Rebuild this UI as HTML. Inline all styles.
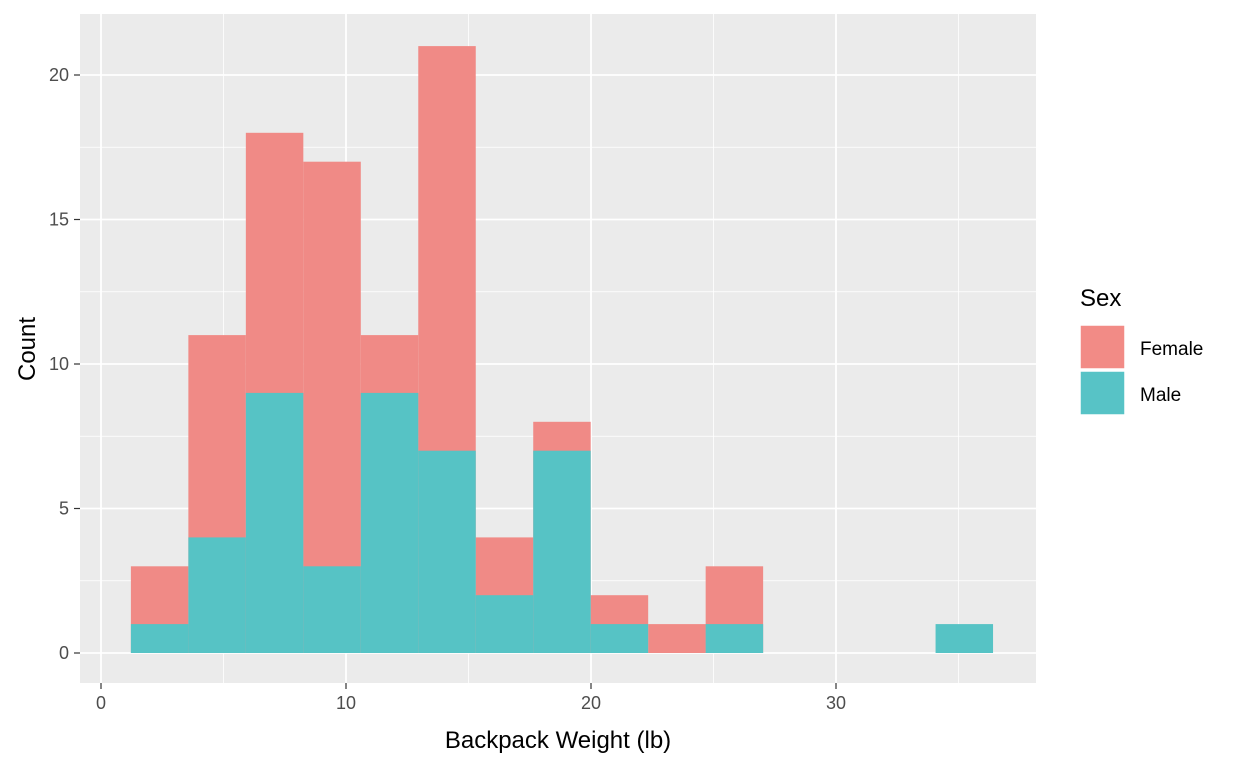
<!DOCTYPE html>
<html><head><meta charset="utf-8"><style>
html,body{margin:0;padding:0;background:#fff;}
svg{display:block;font-family:"Liberation Sans",Arial,sans-serif;}
</style></head><body>
<svg id="chart" width="1248" height="768">
<rect x="80" y="14" width="956" height="669" fill="#EBEBEB"/>
<g id="grid"></g><g id="bars"></g><g id="axes"></g>
<text x="558" y="748" font-size="24" text-anchor="middle" fill="#000">Backpack Weight (lb)</text>
<text transform="translate(35,349) rotate(-90)" font-size="24" text-anchor="middle" fill="#000">Count</text>
<g>
<text x="1080" y="306" font-size="24" fill="#000">Sex</text>
<g>
<rect x="1080" y="325" width="45" height="44" fill="#F28B86" stroke="#fff" stroke-width="1.5"/>
<text x="1140" y="355" font-size="19" fill="#000">Female</text></g>
<g>
<rect x="1080" y="371" width="45" height="44" fill="#57C3C6" stroke="#fff" stroke-width="1.5"/>
<text x="1140" y="401" font-size="19" fill="#000">Male</text></g>
</g>
</svg>
<script>
const binStart = 1.22;
const binWidth = 2.346;
const femaleCounts = [3,11,18,17,11,21,4,8,2,1,3,0,0,0,0];
const maleCounts = [1,4,9,3,9,7,2,7,1,0,1,0,0,0,1];
const xTicks = [0,10,20,30];
const yTicks = [0,5,10,15,20];
const NS="http://www.w3.org/2000/svg";
const X=v=>101+v*24.5;
const Y=v=>653-v*28.9;
function mk(tag,attrs,parent){const e=document.createElementNS(NS,tag);for(const k in attrs)e.setAttribute(k,attrs[k]);document.getElementById(parent).appendChild(e);return e;}
for(const t of xTicks){
 const m=mk('line',{x1:X(t+5),x2:X(t+5),y1:14,y2:683,stroke:'#fff','stroke-width':0.8},'grid');
 
 
 const g=mk('line',{x1:X(t),x2:X(t),y1:14,y2:683,stroke:'#fff','stroke-width':1.8},'grid');
 
 
}
for(const t of yTicks){
 if(t<20){const m=mk('line',{x1:80,x2:1036,y1:Y(t+2.5),y2:Y(t+2.5),stroke:'#fff','stroke-width':0.8},'grid');
 
 }
 const g=mk('line',{x1:80,x2:1036,y1:Y(t),y2:Y(t),stroke:'#fff','stroke-width':1.8},'grid');
 
 
}
femaleCounts.forEach((c,i)=>{ if(!c)return;
 const x0=X(binStart+i*binWidth),x1=X(binStart+(i+1)*binWidth);
 const r=mk('rect',{x:x0,y:Y(c),width:x1-x0,height:Y(0)-Y(c),fill:'#F08A86'},'bars');
 
 
});
maleCounts.forEach((c,i)=>{ if(!c)return;
 const x0=X(binStart+i*binWidth),x1=X(binStart+(i+1)*binWidth);
 const r=mk('rect',{x:x0,y:Y(c),width:x1-x0,height:Y(0)-Y(c),fill:'#56C3C5'},'bars');
 
 
});
for(const t of xTicks){
 mk('line',{x1:X(t),x2:X(t),y1:683,y2:689,stroke:'#333','stroke-width':1.2},'axes');
 const l=mk('text',{x:X(t),y:709,'font-size':18,'text-anchor':'middle',fill:'#4D4D4D'},'axes');
 l.textContent=t;
 
 
}
for(const t of yTicks){
 mk('line',{x1:74,x2:80,y1:Y(t),y2:Y(t),stroke:'#333','stroke-width':1.2},'axes');
 const l=mk('text',{x:69,y:Y(t)+6,'font-size':18,'text-anchor':'end',fill:'#4D4D4D'},'axes');
 l.textContent=t;
 
 
}
</script>
</body></html>
